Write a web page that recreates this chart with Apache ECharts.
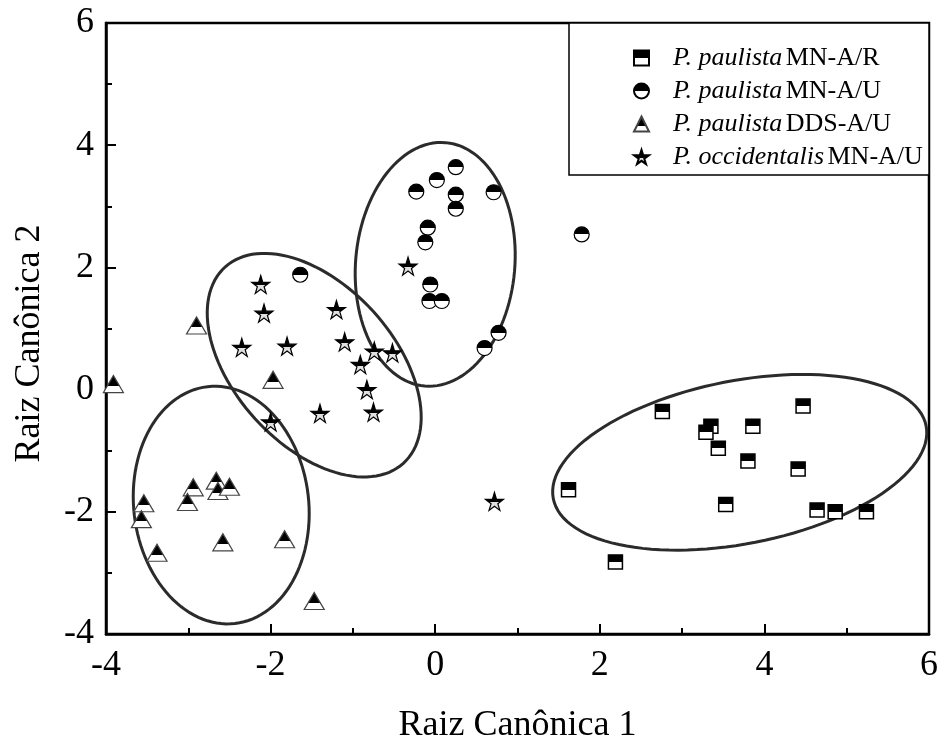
<!DOCTYPE html>
<html>
<head>
<meta charset="utf-8">
<script src="https://cdn.jsdelivr.net/npm/echarts@6/dist/echarts.min.js"></script>
<style>
html, body { margin: 0; padding: 0; background: #fff; }
#draw { width: 941px; height: 749px; }
</style>
</head>
<body>
<div id="draw"></div>
<script>
// grupos
var species = ['P. paulista', 'P. paulista', 'P. paulista', 'P. occidentalis'];
var codes = ['MN-A/R', 'MN-A/U', 'DDS-A/U', 'MN-A/U'];

// P. paulista MN-A/R
var mnarPts = [
	[1.62, -1.64], [2.76, -0.36], [3.35, -0.60], [3.29, -0.70], [3.44, -0.96],
	[3.86, -0.60], [3.80, -1.17], [4.47, -0.27], [4.41, -1.30], [3.53, -1.88],
	[4.64, -1.97], [4.86, -2.00], [5.24, -2.00], [2.19, -2.82]
];
// P. paulista MN-A/U
var mnauPts = [
	[0.25, 3.64], [0.02, 3.43], [-0.23, 3.24], [0.25, 3.19], [0.25, 2.96],
	[0.71, 3.23], [-0.09, 2.65], [-0.12, 2.41], [-0.06, 1.72], [-0.07, 1.45],
	[0.08, 1.45], [0.77, 0.93], [0.60, 0.68], [1.78, 2.54], [-1.64, 1.88]
];
// P. paulista DDS-A/U
var ddsPts = [
	[-2.94, -1.60], [-2.66, -1.49], [-2.64, -1.66], [-2.50, -1.59], [-3.01, -1.84],
	[-3.54, -1.86], [-3.57, -2.12], [-3.38, -2.67], [-2.58, -2.50], [-1.83, -2.45],
	[-1.47, -3.46], [-3.91, 0.09], [-2.90, 1.05], [-1.97, 0.16]
];
// P. occidentalis MN-A/U
var occPts = [
	[-2.12, 1.72], [-2.08, 1.25], [-2.35, 0.69], [-1.80, 0.71], [-1.20, 1.31],
	[-1.10, 0.78], [-0.74, 0.63], [-0.52, 0.60], [-0.91, 0.41], [-0.83, 0.00],
	[-0.75, -0.37], [-1.40, -0.39], [-2.00, -0.53], [-0.33, 2.02], [0.72, -1.83]
];

// elipses: centro x, centro y, semi-eixo 1 (dx, dy), semi-eixo 2 (dx, dy)
var ellipses = [
	[3.70, -1.19, 2.265, 0.595, 0.190, -1.309],
	[0.00, 2.05, 0.127, 1.992, 0.964, -0.111],
	[-1.47, 0.40, 1.083, -1.606, -0.719, -0.877],
	[-2.60, -1.89, -0.167, 1.938, 1.056, 0.165]
];

var xTicks = [-4, 6, 2];
var yTicks = [-4, 6, 2];

var serif = 'Liberation Serif';

function halfFill(top, bottom, stop) {
	return new echarts.graphic.LinearGradient(0, 0, 0, 1, [
		{ offset: 0, color: top },
		{ offset: stop, color: top },
		{ offset: stop, color: bottom },
		{ offset: 1, color: bottom }
	]);
}

var starPath = 'path://M50,0 L61,35 L98,35 L68,57 L79,91 L50,70 L21,91 L32,57 L2,35 L39,35 Z';

var names = species.map(function(s, i) {
	return s + ' ' + codes[i];
});

var myChart = echarts.init(document.getElementById('draw'));

option = {
	animation: false,
	backgroundColor: '#fff',
	grid: {
		left: 106,
		right: 12,
		top: 23,
		bottom: 114,
		show: true,
		borderColor: '#000',
		borderWidth: 2.5
	},
	graphic: [ {
		type: 'rect',
		shape: { x: 569, y: 23, width: 360, height: 152 },
		style: { fill: '#fff', stroke: '#000', lineWidth: 1.5 },
		z: 5
	} ],
	legend: {
		orient: 'vertical',
		left: 628,
		top: 40,
		itemWidth: 15,
		itemHeight: 15,
		itemGap: 7,
		z: 10,
		data: names,
		formatter: function(name) {
			var i = names.indexOf(name);
			return '{i|' + species[i] + '} {n|' + codes[i] + '}';
		},
		textStyle: {
			rich: {
				i: { fontFamily: serif, fontStyle: 'italic', fontSize: 26, color: '#000', padding: [0, 0, 0, 19], lineHeight: 25 },
				n: { fontFamily: serif, fontSize: 26, color: '#000', lineHeight: 25 }
			}
		}
	},
	xAxis: {
		type: 'value',
		min: xTicks[0],
		max: xTicks[1],
		interval: xTicks[2],
		splitLine: { show: false },
		axisLine: { onZero: false, lineStyle: { color: '#000', width: 2.5 } },
		axisTick: { inside: true, length: 10, lineStyle: { color: '#000', width: 2 } },
		minorTick: { show: true, splitNumber: 2, length: 6, lineStyle: { color: '#000', width: 2 } },
		axisLabel: { fontFamily: serif, fontSize: 36, color: '#000', margin: 14 },
		name: 'Raiz Canônica 1',
		nameLocation: 'middle',
		nameGap: 74,
		nameTextStyle: { fontFamily: serif, fontSize: 36, color: '#000' }
	},
	yAxis: {
		type: 'value',
		min: yTicks[0],
		max: yTicks[1],
		interval: yTicks[2],
		splitLine: { show: false },
		axisLine: { onZero: false, lineStyle: { color: '#000', width: 2.5 } },
		axisTick: { inside: true, length: 10, lineStyle: { color: '#000', width: 2 } },
		minorTick: { show: true, splitNumber: 2, length: 6, lineStyle: { color: '#000', width: 2 } },
		axisLabel: { fontFamily: serif, fontSize: 36, color: '#000', margin: 12 },
		name: 'Raiz Canônica 2',
		nameLocation: 'middle',
		nameGap: 58,
		nameTextStyle: { fontFamily: serif, fontSize: 36, color: '#000', padding: [0, 30, 0, 0] }
	},
	series: [ {
		type: 'custom',
		name: 'elipses',
		z: 1,
		clip: true,
		data: ellipses,
		renderItem: function(params, api) {
			var cx = api.value(0), cy = api.value(1);
			var ux = api.value(2), uy = api.value(3);
			var vx = api.value(4), vy = api.value(5);
			var pts = [];
			for (var k = 0; k <= 120; k++) {
				var t = k / 120 * Math.PI * 2;
				pts.push(api.coord([
					cx + ux * Math.cos(t) + vx * Math.sin(t),
					cy + uy * Math.cos(t) + vy * Math.sin(t)
				]));
			}
			return {
				type: 'polygon',
				shape: { points: pts },
				style: { fill: null, stroke: '#2b2b2b', lineWidth: 3 }
			};
		}
	}, {
		name: names[0],
		type: 'scatter',
		z: 3,
		symbol: 'rect',
		symbolSize: 14,
		data: mnarPts,
		itemStyle: { color: halfFill('#000', '#fff', 0.5), borderColor: '#000', borderWidth: 1.5, opacity: 1 }
	}, {
		name: names[1],
		type: 'scatter',
		z: 3,
		symbol: 'circle',
		symbolSize: 15,
		data: mnauPts,
		itemStyle: { color: halfFill('#000', '#fff', 0.5), borderColor: '#000', borderWidth: 1.2, opacity: 1 }
	}, {
		name: names[2],
		type: 'scatter',
		z: 3,
		symbol: 'triangle',
		symbolSize: [20, 17],
		data: ddsPts,
		itemStyle: { color: halfFill('#000', '#fff', 0.6), borderColor: '#444', borderWidth: 1.2, opacity: 1 }
	}, {
		name: names[3],
		type: 'scatter',
		z: 3,
		symbol: starPath,
		symbolSize: 18,
		data: occPts,
		itemStyle: { color: halfFill('#000', '#e0e0e0', 0.55), borderColor: '#000', borderWidth: 1.2, opacity: 1 }
	} ]
};
myChart.setOption(option);
</script>
</body>
</html>
